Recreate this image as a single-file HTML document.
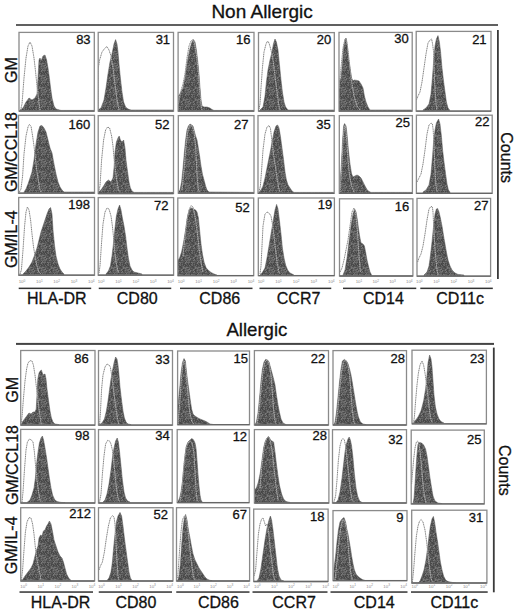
<!DOCTYPE html><html><head><meta charset="utf-8"><style>html,body{margin:0;padding:0;background:#fff;}svg{display:block;}text{font-family:"Liberation Sans", sans-serif;fill:#111;stroke:#111;stroke-width:0.3px;}text.tk{fill:#8c8c8c;stroke:none;}</style></head><body>
<svg width="520" height="612" viewBox="0 0 520 612">
<defs><pattern id="tex" patternUnits="userSpaceOnUse" width="12" height="12"><rect x="0" y="0" width="1" height="1" fill="#646464"/><rect x="1" y="0" width="1" height="1" fill="#525252"/><rect x="2" y="0" width="1" height="1" fill="#6c6c6c"/><rect x="3" y="0" width="1" height="1" fill="#464646"/><rect x="4" y="0" width="1" height="1" fill="#4c4c4c"/><rect x="5" y="0" width="1" height="1" fill="#4c4c4c"/><rect x="6" y="0" width="1" height="1" fill="#646464"/><rect x="7" y="0" width="1" height="1" fill="#464646"/><rect x="8" y="0" width="1" height="1" fill="#585858"/><rect x="9" y="0" width="1" height="1" fill="#464646"/><rect x="10" y="0" width="1" height="1" fill="#4c4c4c"/><rect x="11" y="0" width="1" height="1" fill="#6c6c6c"/><rect x="0" y="1" width="1" height="1" fill="#6c6c6c"/><rect x="1" y="1" width="1" height="1" fill="#4c4c4c"/><rect x="2" y="1" width="1" height="1" fill="#585858"/><rect x="3" y="1" width="1" height="1" fill="#4c4c4c"/><rect x="4" y="1" width="1" height="1" fill="#6c6c6c"/><rect x="5" y="1" width="1" height="1" fill="#464646"/><rect x="6" y="1" width="1" height="1" fill="#4c4c4c"/><rect x="7" y="1" width="1" height="1" fill="#585858"/><rect x="8" y="1" width="1" height="1" fill="#464646"/><rect x="9" y="1" width="1" height="1" fill="#6c6c6c"/><rect x="10" y="1" width="1" height="1" fill="#464646"/><rect x="11" y="1" width="1" height="1" fill="#585858"/><rect x="0" y="2" width="1" height="1" fill="#464646"/><rect x="1" y="2" width="1" height="1" fill="#525252"/><rect x="2" y="2" width="1" height="1" fill="#5e5e5e"/><rect x="3" y="2" width="1" height="1" fill="#6c6c6c"/><rect x="4" y="2" width="1" height="1" fill="#525252"/><rect x="5" y="2" width="1" height="1" fill="#4c4c4c"/><rect x="6" y="2" width="1" height="1" fill="#5e5e5e"/><rect x="7" y="2" width="1" height="1" fill="#525252"/><rect x="8" y="2" width="1" height="1" fill="#4c4c4c"/><rect x="9" y="2" width="1" height="1" fill="#585858"/><rect x="10" y="2" width="1" height="1" fill="#646464"/><rect x="11" y="2" width="1" height="1" fill="#4c4c4c"/><rect x="0" y="3" width="1" height="1" fill="#4c4c4c"/><rect x="1" y="3" width="1" height="1" fill="#464646"/><rect x="2" y="3" width="1" height="1" fill="#585858"/><rect x="3" y="3" width="1" height="1" fill="#767676"/><rect x="4" y="3" width="1" height="1" fill="#6c6c6c"/><rect x="5" y="3" width="1" height="1" fill="#646464"/><rect x="6" y="3" width="1" height="1" fill="#767676"/><rect x="7" y="3" width="1" height="1" fill="#767676"/><rect x="8" y="3" width="1" height="1" fill="#646464"/><rect x="9" y="3" width="1" height="1" fill="#5e5e5e"/><rect x="10" y="3" width="1" height="1" fill="#585858"/><rect x="11" y="3" width="1" height="1" fill="#525252"/><rect x="0" y="4" width="1" height="1" fill="#585858"/><rect x="1" y="4" width="1" height="1" fill="#4c4c4c"/><rect x="2" y="4" width="1" height="1" fill="#5e5e5e"/><rect x="3" y="4" width="1" height="1" fill="#767676"/><rect x="4" y="4" width="1" height="1" fill="#646464"/><rect x="5" y="4" width="1" height="1" fill="#767676"/><rect x="6" y="4" width="1" height="1" fill="#5e5e5e"/><rect x="7" y="4" width="1" height="1" fill="#4c4c4c"/><rect x="8" y="4" width="1" height="1" fill="#4c4c4c"/><rect x="9" y="4" width="1" height="1" fill="#6c6c6c"/><rect x="10" y="4" width="1" height="1" fill="#525252"/><rect x="11" y="4" width="1" height="1" fill="#646464"/><rect x="0" y="5" width="1" height="1" fill="#525252"/><rect x="1" y="5" width="1" height="1" fill="#767676"/><rect x="2" y="5" width="1" height="1" fill="#6c6c6c"/><rect x="3" y="5" width="1" height="1" fill="#464646"/><rect x="4" y="5" width="1" height="1" fill="#4c4c4c"/><rect x="5" y="5" width="1" height="1" fill="#646464"/><rect x="6" y="5" width="1" height="1" fill="#646464"/><rect x="7" y="5" width="1" height="1" fill="#646464"/><rect x="8" y="5" width="1" height="1" fill="#767676"/><rect x="9" y="5" width="1" height="1" fill="#767676"/><rect x="10" y="5" width="1" height="1" fill="#4c4c4c"/><rect x="11" y="5" width="1" height="1" fill="#4c4c4c"/><rect x="0" y="6" width="1" height="1" fill="#5e5e5e"/><rect x="1" y="6" width="1" height="1" fill="#767676"/><rect x="2" y="6" width="1" height="1" fill="#4c4c4c"/><rect x="3" y="6" width="1" height="1" fill="#464646"/><rect x="4" y="6" width="1" height="1" fill="#5e5e5e"/><rect x="5" y="6" width="1" height="1" fill="#767676"/><rect x="6" y="6" width="1" height="1" fill="#5e5e5e"/><rect x="7" y="6" width="1" height="1" fill="#6c6c6c"/><rect x="8" y="6" width="1" height="1" fill="#646464"/><rect x="9" y="6" width="1" height="1" fill="#464646"/><rect x="10" y="6" width="1" height="1" fill="#767676"/><rect x="11" y="6" width="1" height="1" fill="#646464"/><rect x="0" y="7" width="1" height="1" fill="#525252"/><rect x="1" y="7" width="1" height="1" fill="#4c4c4c"/><rect x="2" y="7" width="1" height="1" fill="#767676"/><rect x="3" y="7" width="1" height="1" fill="#464646"/><rect x="4" y="7" width="1" height="1" fill="#585858"/><rect x="5" y="7" width="1" height="1" fill="#5e5e5e"/><rect x="6" y="7" width="1" height="1" fill="#525252"/><rect x="7" y="7" width="1" height="1" fill="#585858"/><rect x="8" y="7" width="1" height="1" fill="#6c6c6c"/><rect x="9" y="7" width="1" height="1" fill="#6c6c6c"/><rect x="10" y="7" width="1" height="1" fill="#767676"/><rect x="11" y="7" width="1" height="1" fill="#4c4c4c"/><rect x="0" y="8" width="1" height="1" fill="#525252"/><rect x="1" y="8" width="1" height="1" fill="#767676"/><rect x="2" y="8" width="1" height="1" fill="#6c6c6c"/><rect x="3" y="8" width="1" height="1" fill="#5e5e5e"/><rect x="4" y="8" width="1" height="1" fill="#525252"/><rect x="5" y="8" width="1" height="1" fill="#6c6c6c"/><rect x="6" y="8" width="1" height="1" fill="#5e5e5e"/><rect x="7" y="8" width="1" height="1" fill="#6c6c6c"/><rect x="8" y="8" width="1" height="1" fill="#646464"/><rect x="9" y="8" width="1" height="1" fill="#6c6c6c"/><rect x="10" y="8" width="1" height="1" fill="#585858"/><rect x="11" y="8" width="1" height="1" fill="#525252"/><rect x="0" y="9" width="1" height="1" fill="#4c4c4c"/><rect x="1" y="9" width="1" height="1" fill="#525252"/><rect x="2" y="9" width="1" height="1" fill="#525252"/><rect x="3" y="9" width="1" height="1" fill="#585858"/><rect x="4" y="9" width="1" height="1" fill="#585858"/><rect x="5" y="9" width="1" height="1" fill="#464646"/><rect x="6" y="9" width="1" height="1" fill="#767676"/><rect x="7" y="9" width="1" height="1" fill="#525252"/><rect x="8" y="9" width="1" height="1" fill="#5e5e5e"/><rect x="9" y="9" width="1" height="1" fill="#5e5e5e"/><rect x="10" y="9" width="1" height="1" fill="#464646"/><rect x="11" y="9" width="1" height="1" fill="#525252"/><rect x="0" y="10" width="1" height="1" fill="#6c6c6c"/><rect x="1" y="10" width="1" height="1" fill="#646464"/><rect x="2" y="10" width="1" height="1" fill="#646464"/><rect x="3" y="10" width="1" height="1" fill="#525252"/><rect x="4" y="10" width="1" height="1" fill="#464646"/><rect x="5" y="10" width="1" height="1" fill="#767676"/><rect x="6" y="10" width="1" height="1" fill="#6c6c6c"/><rect x="7" y="10" width="1" height="1" fill="#6c6c6c"/><rect x="8" y="10" width="1" height="1" fill="#6c6c6c"/><rect x="9" y="10" width="1" height="1" fill="#6c6c6c"/><rect x="10" y="10" width="1" height="1" fill="#4c4c4c"/><rect x="11" y="10" width="1" height="1" fill="#767676"/><rect x="0" y="11" width="1" height="1" fill="#6c6c6c"/><rect x="1" y="11" width="1" height="1" fill="#464646"/><rect x="2" y="11" width="1" height="1" fill="#585858"/><rect x="3" y="11" width="1" height="1" fill="#4c4c4c"/><rect x="4" y="11" width="1" height="1" fill="#585858"/><rect x="5" y="11" width="1" height="1" fill="#767676"/><rect x="6" y="11" width="1" height="1" fill="#525252"/><rect x="7" y="11" width="1" height="1" fill="#4c4c4c"/><rect x="8" y="11" width="1" height="1" fill="#646464"/><rect x="9" y="11" width="1" height="1" fill="#464646"/><rect x="10" y="11" width="1" height="1" fill="#4c4c4c"/><rect x="11" y="11" width="1" height="1" fill="#464646"/></pattern></defs>
<rect width="520" height="612" fill="#fff"/>
<text x="211.4" y="17.7" font-size="19">Non Allergic</text>
<text x="226.4" y="335.9" font-size="18.6">Allergic</text>
<rect x="16" y="24.2" width="482" height="1.6" fill="#3a3a3a"/>
<rect x="16" y="342.9" width="478" height="2" fill="#444"/>
<rect x="497" y="30" width="1.8" height="249" fill="#3a3a3a"/>
<rect x="492.9" y="347.6" width="1.8" height="244.7" fill="#3a3a3a"/>
<text transform="translate(500.8,132.3) rotate(90)" font-size="16">Counts</text>
<text transform="translate(499.1,445) rotate(90)" font-size="16">Counts</text>
<text transform="translate(16.5,82.9) rotate(-90)" font-size="16">GM</text>
<text transform="translate(16.6,192.1) rotate(-90)" font-size="16">GM/CCL18</text>
<text transform="translate(16.5,268.1) rotate(-90)" font-size="16">GM/IL-4</text>
<text transform="translate(18.2,402.8) rotate(-90)" font-size="16">GM</text>
<text transform="translate(17.8,505.1) rotate(-90)" font-size="16">GM/CCL18</text>
<text transform="translate(17,574.2) rotate(-90)" font-size="16">GM/IL-4</text>
<clipPath id="cT11"><rect x="19" y="32.4" width="75.3" height="78.7"/></clipPath>
<g clip-path="url(#cT11)">
<path d="M20,113.1 L20,110 L23,108 L26,102 L29,98 L32,100 L35,98 L37,94 L38,78 L39,60 L40,58 L41,61 L43,56 L45,55 L46.6,60 L48,68 L49.4,78 L50.6,88 L52,98 L54,106 L56,109 L61,110.4 L94,110.4 L94,113.1 Z" fill="url(#tex)" stroke="#555" stroke-width="0.5"/>
<polyline points="20.6,110 22,104 24,78 26,58 28,46 30,42 32,46 34,58 35.6,72 37,86 38.4,98 40,110" fill="none" stroke="#858585" stroke-width="1.0" stroke-dasharray="1.3,0.5"/>
<clipPath id="fT11"><path d="M20,113.1 L20,110 L23,108 L26,102 L29,98 L32,100 L35,98 L37,94 L38,78 L39,60 L40,58 L41,61 L43,56 L45,55 L46.6,60 L48,68 L49.4,78 L50.6,88 L52,98 L54,106 L56,109 L61,110.4 L94,110.4 L94,113.1 Z"/></clipPath>
<polyline clip-path="url(#fT11)" points="20.6,110 22,104 24,78 26,58 28,46 30,42 32,46 34,58 35.6,72 37,86 38.4,98 40,110" fill="none" stroke="#b8b8b8" stroke-width="0.9" stroke-dasharray="1.1,0.7"/>
</g>
<rect x="19" y="32.4" width="75.3" height="78.7" fill="none" stroke="#8a8a8a" stroke-width="1.3"/>
<line x1="19" y1="111.1" x2="94.3" y2="111.1" stroke="#666" stroke-width="1.3"/>
<text x="90.6" y="44.1" font-size="13" text-anchor="end">83</text>
<clipPath id="cT12"><rect x="98.2" y="32.4" width="75.3" height="78.7"/></clipPath>
<g clip-path="url(#cT12)">
<path d="M98,113.1 L98,110 L101,108 L104,100 L106,88 L108,74 L110,62 L112,54 L114,44 L115.6,39.6 L117,44 L118,52 L119,64 L120.4,78 L122,92 L123.6,102 L125.6,107 L128,109 L131,110 L173,110 L173,113.1 Z" fill="url(#tex)" stroke="#555" stroke-width="0.5"/>
<polyline points="98,110 98,70 99.6,60 102,52 105,48 107,46.6 109,50 111,56 113,68 115,84 117,100 119,110" fill="none" stroke="#858585" stroke-width="1.0" stroke-dasharray="1.3,0.5"/>
<clipPath id="fT12"><path d="M98,113.1 L98,110 L101,108 L104,100 L106,88 L108,74 L110,62 L112,54 L114,44 L115.6,39.6 L117,44 L118,52 L119,64 L120.4,78 L122,92 L123.6,102 L125.6,107 L128,109 L131,110 L173,110 L173,113.1 Z"/></clipPath>
<polyline clip-path="url(#fT12)" points="98,110 98,70 99.6,60 102,52 105,48 107,46.6 109,50 111,56 113,68 115,84 117,100 119,110" fill="none" stroke="#b8b8b8" stroke-width="0.9" stroke-dasharray="1.1,0.7"/>
</g>
<rect x="98.2" y="32.4" width="75.3" height="78.7" fill="none" stroke="#8a8a8a" stroke-width="1.3"/>
<line x1="98.2" y1="111.1" x2="173.5" y2="111.1" stroke="#666" stroke-width="1.3"/>
<text x="170.1" y="44.2" font-size="13" text-anchor="end">31</text>
<clipPath id="cT13"><rect x="178.1" y="32.4" width="75.9" height="78.7"/></clipPath>
<g clip-path="url(#cT13)">
<path d="M178,113.1 L178,110 L178,96 L180,94 L183,88 L185,78 L186.4,68 L188,58 L189.6,50 L191.6,43 L193.4,39.6 L195,42 L196.4,50 L197.6,60 L199,74 L200,88 L201,100 L202,106 L204,107 L207,107 L210,108 L212,109.6 L214,110.4 L253.6,110.4 L253.6,113.1 Z" fill="url(#tex)" stroke="#555" stroke-width="0.5"/>
<polyline points="178.4,104 180,94 183,84 185,74 187,58 189,46 191,41 193,39.6 194,41 196,52 198,68 199.6,88 201,104 202,110" fill="none" stroke="#858585" stroke-width="1.0" stroke-dasharray="1.3,0.5"/>
<clipPath id="fT13"><path d="M178,113.1 L178,110 L178,96 L180,94 L183,88 L185,78 L186.4,68 L188,58 L189.6,50 L191.6,43 L193.4,39.6 L195,42 L196.4,50 L197.6,60 L199,74 L200,88 L201,100 L202,106 L204,107 L207,107 L210,108 L212,109.6 L214,110.4 L253.6,110.4 L253.6,113.1 Z"/></clipPath>
<polyline clip-path="url(#fT13)" points="178.4,104 180,94 183,84 185,74 187,58 189,46 191,41 193,39.6 194,41 196,52 198,68 199.6,88 201,104 202,110" fill="none" stroke="#b8b8b8" stroke-width="0.9" stroke-dasharray="1.1,0.7"/>
</g>
<rect x="178.1" y="32.4" width="75.9" height="78.7" fill="none" stroke="#8a8a8a" stroke-width="1.3"/>
<line x1="178.1" y1="111.1" x2="254" y2="111.1" stroke="#666" stroke-width="1.3"/>
<text x="250.5" y="44.4" font-size="13" text-anchor="end">16</text>
<clipPath id="cT14"><rect x="258.5" y="32.6" width="75.8" height="78.5"/></clipPath>
<g clip-path="url(#cT14)">
<path d="M260,113.1 L260,110 L263,107 L265,96 L266.4,82 L268,70 L270,60 L272,52 L273.4,44 L275,39 L276.4,42 L278,50 L279.4,64 L281,80 L282.4,92 L284,102 L285.6,107 L288,110 L334,110 L334,113.1 Z" fill="url(#tex)" stroke="#555" stroke-width="0.5"/>
<polyline points="259,109 260,104 261,88 262.4,68 264,52 266,44 267.6,41 269,43 271,50 273,60 275,76 277,92 279,106 280,110" fill="none" stroke="#858585" stroke-width="1.0" stroke-dasharray="1.3,0.5"/>
<clipPath id="fT14"><path d="M260,113.1 L260,110 L263,107 L265,96 L266.4,82 L268,70 L270,60 L272,52 L273.4,44 L275,39 L276.4,42 L278,50 L279.4,64 L281,80 L282.4,92 L284,102 L285.6,107 L288,110 L334,110 L334,113.1 Z"/></clipPath>
<polyline clip-path="url(#fT14)" points="259,109 260,104 261,88 262.4,68 264,52 266,44 267.6,41 269,43 271,50 273,60 275,76 277,92 279,106 280,110" fill="none" stroke="#b8b8b8" stroke-width="0.9" stroke-dasharray="1.1,0.7"/>
</g>
<rect x="258.5" y="32.6" width="75.8" height="78.5" fill="none" stroke="#8a8a8a" stroke-width="1.3"/>
<line x1="258.5" y1="111.1" x2="334.3" y2="111.1" stroke="#666" stroke-width="1.3"/>
<text x="331.3" y="43.5" font-size="13" text-anchor="end">20</text>
<clipPath id="cT15"><rect x="339" y="32.4" width="73.2" height="78.7"/></clipPath>
<g clip-path="url(#cT15)">
<path d="M339,113.1 L339,110 L339,82 L341,78 L342.4,64 L343.6,48 L345,40 L346,38 L347,44 L348.4,58 L350,68 L351.6,78 L353,81 L354,80 L357,80.4 L359,81 L361,84 L363,88 L364.4,96 L366,102 L368,107 L370,110 L411.6,110 L411.6,113.1 Z" fill="url(#tex)" stroke="#555" stroke-width="0.5"/>
<polyline points="339,88 341,68 343,48 345,39 346.4,39 348,50 350,68 352,84 354,96 357,106 360,110" fill="none" stroke="#858585" stroke-width="1.0" stroke-dasharray="1.3,0.5"/>
<clipPath id="fT15"><path d="M339,113.1 L339,110 L339,82 L341,78 L342.4,64 L343.6,48 L345,40 L346,38 L347,44 L348.4,58 L350,68 L351.6,78 L353,81 L354,80 L357,80.4 L359,81 L361,84 L363,88 L364.4,96 L366,102 L368,107 L370,110 L411.6,110 L411.6,113.1 Z"/></clipPath>
<polyline clip-path="url(#fT15)" points="339,88 341,68 343,48 345,39 346.4,39 348,50 350,68 352,84 354,96 357,106 360,110" fill="none" stroke="#b8b8b8" stroke-width="0.9" stroke-dasharray="1.1,0.7"/>
</g>
<rect x="339" y="32.4" width="73.2" height="78.7" fill="none" stroke="#8a8a8a" stroke-width="1.3"/>
<line x1="339" y1="111.1" x2="412.2" y2="111.1" stroke="#666" stroke-width="1.3"/>
<text x="408.8" y="43.2" font-size="13" text-anchor="end">30</text>
<clipPath id="cT16"><rect x="416.2" y="31.4" width="74.8" height="79.7"/></clipPath>
<g clip-path="url(#cT16)">
<path d="M423,113.1 L423,110 L426,108 L429,104 L431,94 L432.4,78 L433.6,62 L435,46 L436.4,39 L438,35.6 L439.4,42 L440.6,52 L442,68 L443.4,80 L445,92 L446.4,102 L448,108 L449.6,110 L449.6,113.1 Z" fill="url(#tex)" stroke="#555" stroke-width="0.5"/>
<polyline points="416.4,100 418,96 420,92 422,82 424,68 426,54 428,43 430,40 431.6,39 432.6,44 433.6,52 434,68 435,88 436,104 437,110" fill="none" stroke="#858585" stroke-width="1.0" stroke-dasharray="1.3,0.5"/>
<clipPath id="fT16"><path d="M423,113.1 L423,110 L426,108 L429,104 L431,94 L432.4,78 L433.6,62 L435,46 L436.4,39 L438,35.6 L439.4,42 L440.6,52 L442,68 L443.4,80 L445,92 L446.4,102 L448,108 L449.6,110 L449.6,113.1 Z"/></clipPath>
<polyline clip-path="url(#fT16)" points="416.4,100 418,96 420,92 422,82 424,68 426,54 428,43 430,40 431.6,39 432.6,44 433.6,52 434,68 435,88 436,104 437,110" fill="none" stroke="#b8b8b8" stroke-width="0.9" stroke-dasharray="1.1,0.7"/>
</g>
<rect x="416.2" y="31.4" width="74.8" height="79.7" fill="none" stroke="#8a8a8a" stroke-width="1.3"/>
<line x1="416.2" y1="111.1" x2="491" y2="111.1" stroke="#666" stroke-width="1.3"/>
<text x="486.6" y="43.8" font-size="13" text-anchor="end">21</text>
<clipPath id="cT21"><rect x="18.5" y="115.3" width="76" height="77.9"/></clipPath>
<g clip-path="url(#cT21)">
<path d="M24,195.2 L24,192 L26,189 L28,184 L30,178 L32,172 L34,160 L36,144 L38,132 L40,126 L42,125.6 L44,128 L46,132 L48,140 L50,148 L52,153 L54,164 L56,174 L58,182 L60,187 L62,190 L64,192 L94,192 L94,195.2 Z" fill="url(#tex)" stroke="#555" stroke-width="0.5"/>
<polyline points="19.4,192 21,189 22.6,176 24,154 26,136 28,127 29.4,124.4 31,126 32.6,136 34,146 35.6,160 37,172 38.6,182 40,190 41,192" fill="none" stroke="#858585" stroke-width="1.0" stroke-dasharray="1.3,0.5"/>
<clipPath id="fT21"><path d="M24,195.2 L24,192 L26,189 L28,184 L30,178 L32,172 L34,160 L36,144 L38,132 L40,126 L42,125.6 L44,128 L46,132 L48,140 L50,148 L52,153 L54,164 L56,174 L58,182 L60,187 L62,190 L64,192 L94,192 L94,195.2 Z"/></clipPath>
<polyline clip-path="url(#fT21)" points="19.4,192 21,189 22.6,176 24,154 26,136 28,127 29.4,124.4 31,126 32.6,136 34,146 35.6,160 37,172 38.6,182 40,190 41,192" fill="none" stroke="#b8b8b8" stroke-width="0.9" stroke-dasharray="1.1,0.7"/>
</g>
<rect x="18.5" y="115.3" width="76" height="77.9" fill="none" stroke="#8a8a8a" stroke-width="1.3"/>
<line x1="18.5" y1="193.2" x2="94.5" y2="193.2" stroke="#666" stroke-width="1.3"/>
<text x="90.3" y="128.8" font-size="13" text-anchor="end">160</text>
<clipPath id="cT22"><rect x="98.2" y="115.6" width="75.3" height="77.9"/></clipPath>
<g clip-path="url(#cT22)">
<path d="M98.4,195.5 L98.4,192 L101,190 L103.6,186 L106,182 L108.4,180 L111,182 L113,178 L114,168 L115,152 L116.4,142 L118,138 L119.2,136 L120.4,140 L122,142 L123.6,140 L125,148 L126,160 L127.6,172 L129,182 L130.4,188 L132,191 L134,192.4 L173,192.4 L173,195.5 Z" fill="url(#tex)" stroke="#555" stroke-width="0.5"/>
<polyline points="98.4,192 100,186 101.6,160 103.6,140 105.6,130 107.6,127 109.6,128 111.6,136 113,146 114,158 115.4,170 117,182 118.4,190 119.6,192" fill="none" stroke="#858585" stroke-width="1.0" stroke-dasharray="1.3,0.5"/>
<clipPath id="fT22"><path d="M98.4,195.5 L98.4,192 L101,190 L103.6,186 L106,182 L108.4,180 L111,182 L113,178 L114,168 L115,152 L116.4,142 L118,138 L119.2,136 L120.4,140 L122,142 L123.6,140 L125,148 L126,160 L127.6,172 L129,182 L130.4,188 L132,191 L134,192.4 L173,192.4 L173,195.5 Z"/></clipPath>
<polyline clip-path="url(#fT22)" points="98.4,192 100,186 101.6,160 103.6,140 105.6,130 107.6,127 109.6,128 111.6,136 113,146 114,158 115.4,170 117,182 118.4,190 119.6,192" fill="none" stroke="#b8b8b8" stroke-width="0.9" stroke-dasharray="1.1,0.7"/>
</g>
<rect x="98.2" y="115.6" width="75.3" height="77.9" fill="none" stroke="#8a8a8a" stroke-width="1.3"/>
<line x1="98.2" y1="193.5" x2="173.5" y2="193.5" stroke="#666" stroke-width="1.3"/>
<text x="169.5" y="128.5" font-size="13" text-anchor="end">52</text>
<clipPath id="cT23"><rect x="178.3" y="115.6" width="75.7" height="77.6"/></clipPath>
<g clip-path="url(#cT23)">
<path d="M178.4,195.2 L178.4,192 L180,190 L181.6,182 L183,168 L184.4,152 L185.6,140 L187,130 L188.4,126 L190,124 L191.6,125 L193,126 L194,130 L195.6,136 L197,140 L198,146 L199.6,156 L201,166 L202.4,174 L204,180 L205.6,186 L207,190 L209,192 L253.6,192.4 L253.6,195.2 Z" fill="url(#tex)" stroke="#555" stroke-width="0.5"/>
<polyline points="182,190 184,170 186,146 188,130 190,125 192,126 194,132 195.6,146 196.4,162 197.2,178 198.4,190 199.6,192.4" fill="none" stroke="#858585" stroke-width="1.0" stroke-dasharray="1.3,0.5"/>
<clipPath id="fT23"><path d="M178.4,195.2 L178.4,192 L180,190 L181.6,182 L183,168 L184.4,152 L185.6,140 L187,130 L188.4,126 L190,124 L191.6,125 L193,126 L194,130 L195.6,136 L197,140 L198,146 L199.6,156 L201,166 L202.4,174 L204,180 L205.6,186 L207,190 L209,192 L253.6,192.4 L253.6,195.2 Z"/></clipPath>
<polyline clip-path="url(#fT23)" points="182,190 184,170 186,146 188,130 190,125 192,126 194,132 195.6,146 196.4,162 197.2,178 198.4,190 199.6,192.4" fill="none" stroke="#b8b8b8" stroke-width="0.9" stroke-dasharray="1.1,0.7"/>
</g>
<rect x="178.3" y="115.6" width="75.7" height="77.6" fill="none" stroke="#8a8a8a" stroke-width="1.3"/>
<line x1="178.3" y1="193.2" x2="254" y2="193.2" stroke="#666" stroke-width="1.3"/>
<text x="248.4" y="129.3" font-size="13" text-anchor="end">27</text>
<clipPath id="cT24"><rect x="258" y="115.6" width="76.2" height="77.7"/></clipPath>
<g clip-path="url(#cT24)">
<path d="M259,195.3 L259,192 L261,190 L263,186 L265,178 L267,168 L269,158 L271,148 L272.4,140 L274,132 L276,126 L277.6,125 L279,128 L280.4,136 L282,148 L283.6,160 L285,172 L286.4,180 L288,185 L290,188 L292,191 L294,192.4 L333.6,192.4 L333.6,195.3 Z" fill="url(#tex)" stroke="#555" stroke-width="0.5"/>
<polyline points="259,192 260.4,186 261.6,170 263,150 265,134 267,127 269,125.6 270.4,128 271.6,138 273,150 275,164 277,178 279,189 280,192" fill="none" stroke="#858585" stroke-width="1.0" stroke-dasharray="1.3,0.5"/>
<clipPath id="fT24"><path d="M259,195.3 L259,192 L261,190 L263,186 L265,178 L267,168 L269,158 L271,148 L272.4,140 L274,132 L276,126 L277.6,125 L279,128 L280.4,136 L282,148 L283.6,160 L285,172 L286.4,180 L288,185 L290,188 L292,191 L294,192.4 L333.6,192.4 L333.6,195.3 Z"/></clipPath>
<polyline clip-path="url(#fT24)" points="259,192 260.4,186 261.6,170 263,150 265,134 267,127 269,125.6 270.4,128 271.6,138 273,150 275,164 277,178 279,189 280,192" fill="none" stroke="#b8b8b8" stroke-width="0.9" stroke-dasharray="1.1,0.7"/>
</g>
<rect x="258" y="115.6" width="76.2" height="77.7" fill="none" stroke="#8a8a8a" stroke-width="1.3"/>
<line x1="258" y1="193.3" x2="334.2" y2="193.3" stroke="#666" stroke-width="1.3"/>
<text x="330.7" y="128.5" font-size="13" text-anchor="end">35</text>
<clipPath id="cT25"><rect x="339.3" y="115.6" width="73.1" height="77.7"/></clipPath>
<g clip-path="url(#cT25)">
<path d="M339.4,195.3 L339.4,192 L340,186 L341.6,160 L342.6,140 L343.6,126 L344.6,123.6 L346,126 L347,134 L348.4,150 L350,164 L351.6,174 L353,177 L355,176 L357,175 L359,176 L361,178 L363,182 L365,186 L367,189.6 L369,191.6 L371,192.4 L412,192.4 L412,195.3 Z" fill="url(#tex)" stroke="#555" stroke-width="0.5"/>
<polyline points="340,192 341.6,170 343,140 344.4,126 345.6,126 346.8,140 348,160 349.6,176 351.6,186 354,192" fill="none" stroke="#858585" stroke-width="1.0" stroke-dasharray="1.3,0.5"/>
<clipPath id="fT25"><path d="M339.4,195.3 L339.4,192 L340,186 L341.6,160 L342.6,140 L343.6,126 L344.6,123.6 L346,126 L347,134 L348.4,150 L350,164 L351.6,174 L353,177 L355,176 L357,175 L359,176 L361,178 L363,182 L365,186 L367,189.6 L369,191.6 L371,192.4 L412,192.4 L412,195.3 Z"/></clipPath>
<polyline clip-path="url(#fT25)" points="340,192 341.6,170 343,140 344.4,126 345.6,126 346.8,140 348,160 349.6,176 351.6,186 354,192" fill="none" stroke="#b8b8b8" stroke-width="0.9" stroke-dasharray="1.1,0.7"/>
</g>
<rect x="339.3" y="115.6" width="73.1" height="77.7" fill="none" stroke="#8a8a8a" stroke-width="1.3"/>
<line x1="339.3" y1="193.3" x2="412.4" y2="193.3" stroke="#666" stroke-width="1.3"/>
<text x="409.9" y="127" font-size="13" text-anchor="end">25</text>
<clipPath id="cT26"><rect x="416.4" y="115.2" width="75.8" height="78.1"/></clipPath>
<g clip-path="url(#cT26)">
<path d="M423,195.3 L423,192 L426,190 L429,185 L431,174 L432.4,158 L433.6,142 L435,130 L436.4,123 L438.6,119 L440,124 L441.4,136 L442.6,150 L444,162 L445.6,174 L447,184 L448.4,190 L450,192 L450,195.3 Z" fill="url(#tex)" stroke="#555" stroke-width="0.5"/>
<polyline points="417,182 419,178 421,174 423,164 425,150 427,134 429,125 431,123 432.4,124 433.2,130 434,146 435,170 436,186 437,192" fill="none" stroke="#858585" stroke-width="1.0" stroke-dasharray="1.3,0.5"/>
<clipPath id="fT26"><path d="M423,195.3 L423,192 L426,190 L429,185 L431,174 L432.4,158 L433.6,142 L435,130 L436.4,123 L438.6,119 L440,124 L441.4,136 L442.6,150 L444,162 L445.6,174 L447,184 L448.4,190 L450,192 L450,195.3 Z"/></clipPath>
<polyline clip-path="url(#fT26)" points="417,182 419,178 421,174 423,164 425,150 427,134 429,125 431,123 432.4,124 433.2,130 434,146 435,170 436,186 437,192" fill="none" stroke="#b8b8b8" stroke-width="0.9" stroke-dasharray="1.1,0.7"/>
</g>
<rect x="416.4" y="115.2" width="75.8" height="78.1" fill="none" stroke="#8a8a8a" stroke-width="1.3"/>
<line x1="416.4" y1="193.3" x2="492.2" y2="193.3" stroke="#666" stroke-width="1.3"/>
<text x="489.5" y="126.4" font-size="13" text-anchor="end">22</text>
<clipPath id="cT31"><rect x="18.7" y="197.5" width="75.8" height="77.7"/></clipPath>
<g clip-path="url(#cT31)">
<path d="M23,277.2 L23,274 L26,271 L29,267 L32,262 L35,254 L37,248 L39,240 L41,232 L43,226 L45,220 L47,214 L49,209 L50.6,207.6 L52,214 L53,230 L54.6,246 L56,256 L58,264 L60,269 L62,272 L64,274 L64,277.2 Z" fill="url(#tex)" stroke="#555" stroke-width="0.5"/>
<polyline points="20,274 21.4,270 23,250 24.6,226 26,212 27.4,207 29,210 30.6,220 32,234 33.4,246 35,256 37,266 39,272 41,274" fill="none" stroke="#858585" stroke-width="1.0" stroke-dasharray="1.3,0.5"/>
<clipPath id="fT31"><path d="M23,277.2 L23,274 L26,271 L29,267 L32,262 L35,254 L37,248 L39,240 L41,232 L43,226 L45,220 L47,214 L49,209 L50.6,207.6 L52,214 L53,230 L54.6,246 L56,256 L58,264 L60,269 L62,272 L64,274 L64,277.2 Z"/></clipPath>
<polyline clip-path="url(#fT31)" points="20,274 21.4,270 23,250 24.6,226 26,212 27.4,207 29,210 30.6,220 32,234 33.4,246 35,256 37,266 39,272 41,274" fill="none" stroke="#b8b8b8" stroke-width="0.9" stroke-dasharray="1.1,0.7"/>
</g>
<rect x="18.7" y="197.5" width="75.8" height="77.7" fill="none" stroke="#8a8a8a" stroke-width="1.3"/>
<line x1="18.7" y1="275.2" x2="94.5" y2="275.2" stroke="#666" stroke-width="1.3"/>
<text x="89.9" y="209.2" font-size="13" text-anchor="end">198</text>
<clipPath id="cT32"><rect x="98.2" y="197.6" width="75.4" height="77.6"/></clipPath>
<g clip-path="url(#cT32)">
<path d="M106,277.2 L106,274 L108.4,271 L110.4,266 L112,256 L113.4,244 L115,228 L116.4,216 L118,209 L119.6,205 L121,210 L122.4,218 L124,226 L125.6,236 L127,248 L128.4,258 L130,266 L132,270 L134,272 L138,273 L142,274 L142,277.2 Z" fill="url(#tex)" stroke="#555" stroke-width="0.5"/>
<polyline points="99,273 100,266 101.6,242 103,224 105,212 107,208 109,209 111,216 112.4,226 113.6,238 114.6,250 116,262 117.6,270 119,273" fill="none" stroke="#858585" stroke-width="1.0" stroke-dasharray="1.3,0.5"/>
<clipPath id="fT32"><path d="M106,277.2 L106,274 L108.4,271 L110.4,266 L112,256 L113.4,244 L115,228 L116.4,216 L118,209 L119.6,205 L121,210 L122.4,218 L124,226 L125.6,236 L127,248 L128.4,258 L130,266 L132,270 L134,272 L138,273 L142,274 L142,277.2 Z"/></clipPath>
<polyline clip-path="url(#fT32)" points="99,273 100,266 101.6,242 103,224 105,212 107,208 109,209 111,216 112.4,226 113.6,238 114.6,250 116,262 117.6,270 119,273" fill="none" stroke="#b8b8b8" stroke-width="0.9" stroke-dasharray="1.1,0.7"/>
</g>
<rect x="98.2" y="197.6" width="75.4" height="77.6" fill="none" stroke="#8a8a8a" stroke-width="1.3"/>
<line x1="98.2" y1="275.2" x2="173.6" y2="275.2" stroke="#666" stroke-width="1.3"/>
<text x="168.4" y="209.6" font-size="13" text-anchor="end">72</text>
<clipPath id="cT33"><rect x="177.8" y="198" width="75.9" height="77.6"/></clipPath>
<g clip-path="url(#cT33)">
<path d="M177.6,277.6 L177.6,275 L177.6,260 L179.6,258 L181.6,252 L183.6,242 L185.6,230 L187.6,216 L189.6,209 L191.6,208 L193.6,209 L195.6,210 L197,212 L198.4,218 L199.6,230 L201,244 L202.4,254 L204,262 L206,267.6 L208,270 L211,272.4 L214,274 L217,275 L217,277.6 Z" fill="url(#tex)" stroke="#555" stroke-width="0.5"/>
<polyline points="183,256 185,236 187,220 189,210 191,205.6 193,207 195,216 197,230 199,248 201,262 203,272" fill="none" stroke="#858585" stroke-width="1.0" stroke-dasharray="1.3,0.5"/>
<clipPath id="fT33"><path d="M177.6,277.6 L177.6,275 L177.6,260 L179.6,258 L181.6,252 L183.6,242 L185.6,230 L187.6,216 L189.6,209 L191.6,208 L193.6,209 L195.6,210 L197,212 L198.4,218 L199.6,230 L201,244 L202.4,254 L204,262 L206,267.6 L208,270 L211,272.4 L214,274 L217,275 L217,277.6 Z"/></clipPath>
<polyline clip-path="url(#fT33)" points="183,256 185,236 187,220 189,210 191,205.6 193,207 195,216 197,230 199,248 201,262 203,272" fill="none" stroke="#b8b8b8" stroke-width="0.9" stroke-dasharray="1.1,0.7"/>
</g>
<rect x="177.8" y="198" width="75.9" height="77.6" fill="none" stroke="#8a8a8a" stroke-width="1.3"/>
<line x1="177.8" y1="275.6" x2="253.7" y2="275.6" stroke="#666" stroke-width="1.3"/>
<text x="249.8" y="211.5" font-size="13" text-anchor="end">52</text>
<clipPath id="cT34"><rect x="258.3" y="198" width="76.1" height="77.6"/></clipPath>
<g clip-path="url(#cT34)">
<path d="M260,277.6 L260,275 L262,273 L265,268 L267,258 L269,246 L271,234 L273,222 L275,210 L276.6,204.4 L278,209 L279.4,220 L281,234 L282.4,248 L284,258 L285.6,265 L287.6,270 L290,273 L294,275 L294,277.6 Z" fill="url(#tex)" stroke="#555" stroke-width="0.5"/>
<polyline points="260,274 261,266 262,246 263,226 265,214 267,212 269,213 271,216 272.4,224 274,236 275.6,250 277,262 279,272 280,274" fill="none" stroke="#858585" stroke-width="1.0" stroke-dasharray="1.3,0.5"/>
<clipPath id="fT34"><path d="M260,277.6 L260,275 L262,273 L265,268 L267,258 L269,246 L271,234 L273,222 L275,210 L276.6,204.4 L278,209 L279.4,220 L281,234 L282.4,248 L284,258 L285.6,265 L287.6,270 L290,273 L294,275 L294,277.6 Z"/></clipPath>
<polyline clip-path="url(#fT34)" points="260,274 261,266 262,246 263,226 265,214 267,212 269,213 271,216 272.4,224 274,236 275.6,250 277,262 279,272 280,274" fill="none" stroke="#b8b8b8" stroke-width="0.9" stroke-dasharray="1.1,0.7"/>
</g>
<rect x="258.3" y="198" width="76.1" height="77.6" fill="none" stroke="#8a8a8a" stroke-width="1.3"/>
<line x1="258.3" y1="275.6" x2="334.4" y2="275.6" stroke="#666" stroke-width="1.3"/>
<text x="332.2" y="209.2" font-size="13" text-anchor="end">19</text>
<clipPath id="cT35"><rect x="339.5" y="198.8" width="73.4" height="77.2"/></clipPath>
<g clip-path="url(#cT35)">
<path d="M343,278 L343,275 L345,270 L347,258 L349,242 L351,226 L353,214 L354.6,209 L356,212 L357.4,220 L358.4,228 L359.6,236 L361,243 L363,244 L364.4,246 L365.6,252 L367,260 L368.4,266 L370,272 L371.6,275 L371.6,278 Z" fill="url(#tex)" stroke="#555" stroke-width="0.5"/>
<polyline points="340,272 342,268 344,260 346,250 348,240 350,226 352,212 354,208 355.6,212 357,226 358,240 359,256 360.4,272" fill="none" stroke="#858585" stroke-width="1.0" stroke-dasharray="1.3,0.5"/>
<clipPath id="fT35"><path d="M343,278 L343,275 L345,270 L347,258 L349,242 L351,226 L353,214 L354.6,209 L356,212 L357.4,220 L358.4,228 L359.6,236 L361,243 L363,244 L364.4,246 L365.6,252 L367,260 L368.4,266 L370,272 L371.6,275 L371.6,278 Z"/></clipPath>
<polyline clip-path="url(#fT35)" points="340,272 342,268 344,260 346,250 348,240 350,226 352,212 354,208 355.6,212 357,226 358,240 359,256 360.4,272" fill="none" stroke="#b8b8b8" stroke-width="0.9" stroke-dasharray="1.1,0.7"/>
</g>
<rect x="339.5" y="198.8" width="73.4" height="77.2" fill="none" stroke="#8a8a8a" stroke-width="1.3"/>
<line x1="339.5" y1="276" x2="412.9" y2="276" stroke="#666" stroke-width="1.3"/>
<text x="409.3" y="210.8" font-size="13" text-anchor="end">16</text>
<clipPath id="cT36"><rect x="417" y="198.4" width="73.6" height="77.8"/></clipPath>
<g clip-path="url(#cT36)">
<path d="M424,278.2 L424,275 L427,272 L429,266 L430.4,256 L432,242 L433.6,226 L435,214 L436.4,209 L437.6,208.4 L439,212 L440.4,218 L442,226 L443.6,236 L445,244 L446.4,252 L448,260 L450,266 L452,270 L455,273 L458,274.4 L464,275 L464,278.2 Z" fill="url(#tex)" stroke="#555" stroke-width="0.5"/>
<polyline points="417.6,262 419,258 421,254 423,246 425,234 427,220 429,209 431,206.4 432.4,207 433,212 433.6,224 434.4,240 435.6,256 437,270 438,275" fill="none" stroke="#858585" stroke-width="1.0" stroke-dasharray="1.3,0.5"/>
<clipPath id="fT36"><path d="M424,278.2 L424,275 L427,272 L429,266 L430.4,256 L432,242 L433.6,226 L435,214 L436.4,209 L437.6,208.4 L439,212 L440.4,218 L442,226 L443.6,236 L445,244 L446.4,252 L448,260 L450,266 L452,270 L455,273 L458,274.4 L464,275 L464,278.2 Z"/></clipPath>
<polyline clip-path="url(#fT36)" points="417.6,262 419,258 421,254 423,246 425,234 427,220 429,209 431,206.4 432.4,207 433,212 433.6,224 434.4,240 435.6,256 437,270 438,275" fill="none" stroke="#b8b8b8" stroke-width="0.9" stroke-dasharray="1.1,0.7"/>
</g>
<rect x="417" y="198.4" width="73.6" height="77.8" fill="none" stroke="#8a8a8a" stroke-width="1.3"/>
<line x1="417" y1="276.2" x2="490.6" y2="276.2" stroke="#666" stroke-width="1.3"/>
<text x="488.4" y="210.4" font-size="13" text-anchor="end">27</text>
<clipPath id="cB11"><rect x="20.7" y="350.5" width="74.3" height="74.6"/></clipPath>
<g clip-path="url(#cB11)">
<path d="M21,427.1 L21,424.6 L23,421 L26,417 L29,413 L31,414 L33,412 L35,412 L36.2,409 L37,395 L37.8,379 L39,373 L40.2,371 L41.4,370 L43,375 L45,374 L46,379 L47,389 L48.6,401 L50,411 L51.4,418 L53,422 L55,424 L59,424.6 L59,427.1 Z" fill="url(#tex)" stroke="#555" stroke-width="0.5"/>
<polyline points="21,424 22,417 23.4,399 25,381 26.6,369 28,363 30,360.6 32,361 33.4,365 35,375 36.4,387 37.6,397 39,409 40.4,419 41.4,424.6" fill="none" stroke="#858585" stroke-width="1.0" stroke-dasharray="1.3,0.5"/>
<clipPath id="fB11"><path d="M21,427.1 L21,424.6 L23,421 L26,417 L29,413 L31,414 L33,412 L35,412 L36.2,409 L37,395 L37.8,379 L39,373 L40.2,371 L41.4,370 L43,375 L45,374 L46,379 L47,389 L48.6,401 L50,411 L51.4,418 L53,422 L55,424 L59,424.6 L59,427.1 Z"/></clipPath>
<polyline clip-path="url(#fB11)" points="21,424 22,417 23.4,399 25,381 26.6,369 28,363 30,360.6 32,361 33.4,365 35,375 36.4,387 37.6,397 39,409 40.4,419 41.4,424.6" fill="none" stroke="#b8b8b8" stroke-width="0.9" stroke-dasharray="1.1,0.7"/>
</g>
<rect x="20.7" y="350.5" width="74.3" height="74.6" fill="none" stroke="#8a8a8a" stroke-width="1.3"/>
<line x1="20.7" y1="425.1" x2="95" y2="425.1" stroke="#666" stroke-width="1.3"/>
<text x="88.8" y="363" font-size="13" text-anchor="end">86</text>
<clipPath id="cB12"><rect x="98.5" y="350.6" width="74" height="74.5"/></clipPath>
<g clip-path="url(#cB12)">
<path d="M99.6,427.1 L99.6,424.6 L102,423 L104.4,419 L106.4,411 L108,401 L109.6,389 L111,379 L112.4,371 L114,363 L115.6,357 L117,359 L118,365 L119,375 L120,387 L121.4,399 L123,411 L124.4,418 L126,422 L128,424 L131,424.6 L131,427.1 Z" fill="url(#tex)" stroke="#555" stroke-width="0.5"/>
<polyline points="99.6,424 100.4,413 101.6,389 103,375 105,367 107,364 109,365 110.4,367 111.6,375 113,385 114.4,397 116,409 117.6,419 119,424.6" fill="none" stroke="#858585" stroke-width="1.0" stroke-dasharray="1.3,0.5"/>
<clipPath id="fB12"><path d="M99.6,427.1 L99.6,424.6 L102,423 L104.4,419 L106.4,411 L108,401 L109.6,389 L111,379 L112.4,371 L114,363 L115.6,357 L117,359 L118,365 L119,375 L120,387 L121.4,399 L123,411 L124.4,418 L126,422 L128,424 L131,424.6 L131,427.1 Z"/></clipPath>
<polyline clip-path="url(#fB12)" points="99.6,424 100.4,413 101.6,389 103,375 105,367 107,364 109,365 110.4,367 111.6,375 113,385 114.4,397 116,409 117.6,419 119,424.6" fill="none" stroke="#b8b8b8" stroke-width="0.9" stroke-dasharray="1.1,0.7"/>
</g>
<rect x="98.5" y="350.6" width="74" height="74.5" fill="none" stroke="#8a8a8a" stroke-width="1.3"/>
<line x1="98.5" y1="425.1" x2="172.5" y2="425.1" stroke="#666" stroke-width="1.3"/>
<text x="169.8" y="363.8" font-size="13" text-anchor="end">33</text>
<clipPath id="cB13"><rect x="177.6" y="351" width="71.9" height="73.7"/></clipPath>
<g clip-path="url(#cB13)">
<path d="M177.6,426.7 L177.6,424 L178,405 L179,395 L180,385 L181,373 L182.4,363 L184,358.6 L185.4,361 L186.4,371 L187.6,381 L189,391 L190.4,401 L191.6,409 L193,414 L195,416 L198,418 L201,419.4 L204,420.6 L207,422 L210,424 L214,424.6 L214,426.7 Z" fill="url(#tex)" stroke="#555" stroke-width="0.5"/>
<polyline points="178,424 179.6,405 181.6,375 183.2,361 184.8,361 186.4,375 188,395 189.6,411 191.6,421 194,424.6" fill="none" stroke="#858585" stroke-width="1.0" stroke-dasharray="1.3,0.5"/>
<clipPath id="fB13"><path d="M177.6,426.7 L177.6,424 L178,405 L179,395 L180,385 L181,373 L182.4,363 L184,358.6 L185.4,361 L186.4,371 L187.6,381 L189,391 L190.4,401 L191.6,409 L193,414 L195,416 L198,418 L201,419.4 L204,420.6 L207,422 L210,424 L214,424.6 L214,426.7 Z"/></clipPath>
<polyline clip-path="url(#fB13)" points="178,424 179.6,405 181.6,375 183.2,361 184.8,361 186.4,375 188,395 189.6,411 191.6,421 194,424.6" fill="none" stroke="#b8b8b8" stroke-width="0.9" stroke-dasharray="1.1,0.7"/>
</g>
<rect x="177.6" y="351" width="71.9" height="73.7" fill="none" stroke="#8a8a8a" stroke-width="1.3"/>
<line x1="177.6" y1="424.7" x2="249.5" y2="424.7" stroke="#666" stroke-width="1.3"/>
<text x="248" y="363.2" font-size="13" text-anchor="end">15</text>
<clipPath id="cB14"><rect x="254.4" y="350.6" width="74.1" height="74.4"/></clipPath>
<g clip-path="url(#cB14)">
<path d="M255,427 L255,424.6 L256.4,422 L258,413 L259.6,397 L261,381 L262.4,369 L264,362 L265.6,359.4 L267.6,360 L269,362 L270.4,367 L272,373 L273.6,379 L275,385 L276.4,395 L278,405 L279.6,413 L281,419 L283,423 L286,424.6 L286,427 Z" fill="url(#tex)" stroke="#555" stroke-width="0.5"/>
<polyline points="257,424.6 259,411 261,389 263,371 265,362 267,360 269,363 271,375 272.4,393 273.6,409 275,421 276.4,424.6" fill="none" stroke="#858585" stroke-width="1.0" stroke-dasharray="1.3,0.5"/>
<clipPath id="fB14"><path d="M255,427 L255,424.6 L256.4,422 L258,413 L259.6,397 L261,381 L262.4,369 L264,362 L265.6,359.4 L267.6,360 L269,362 L270.4,367 L272,373 L273.6,379 L275,385 L276.4,395 L278,405 L279.6,413 L281,419 L283,423 L286,424.6 L286,427 Z"/></clipPath>
<polyline clip-path="url(#fB14)" points="257,424.6 259,411 261,389 263,371 265,362 267,360 269,363 271,375 272.4,393 273.6,409 275,421 276.4,424.6" fill="none" stroke="#b8b8b8" stroke-width="0.9" stroke-dasharray="1.1,0.7"/>
</g>
<rect x="254.4" y="350.6" width="74.1" height="74.4" fill="none" stroke="#8a8a8a" stroke-width="1.3"/>
<line x1="254.4" y1="425" x2="328.5" y2="425" stroke="#666" stroke-width="1.3"/>
<text x="325.3" y="362.8" font-size="13" text-anchor="end">22</text>
<clipPath id="cB15"><rect x="333" y="350.6" width="73.5" height="74.4"/></clipPath>
<g clip-path="url(#cB15)">
<path d="M334,427 L334,424.6 L335,422 L336.4,413 L338,397 L339.6,381 L341,369 L342.4,361 L344.4,359.4 L346.4,361 L348,364 L349.6,369 L351,375 L352.4,383 L354,393 L355.6,403 L357,411 L358.4,417 L360.4,422 L363,424 L366,424.6 L366,427 Z" fill="url(#tex)" stroke="#555" stroke-width="0.5"/>
<polyline points="335.6,424.6 337.6,411 339.6,389 341.6,371 343.6,362 345.6,360 347.6,363 349.6,375 351,393 352.2,409 353.6,421 355,424.6" fill="none" stroke="#858585" stroke-width="1.0" stroke-dasharray="1.3,0.5"/>
<clipPath id="fB15"><path d="M334,427 L334,424.6 L335,422 L336.4,413 L338,397 L339.6,381 L341,369 L342.4,361 L344.4,359.4 L346.4,361 L348,364 L349.6,369 L351,375 L352.4,383 L354,393 L355.6,403 L357,411 L358.4,417 L360.4,422 L363,424 L366,424.6 L366,427 Z"/></clipPath>
<polyline clip-path="url(#fB15)" points="335.6,424.6 337.6,411 339.6,389 341.6,371 343.6,362 345.6,360 347.6,363 349.6,375 351,393 352.2,409 353.6,421 355,424.6" fill="none" stroke="#b8b8b8" stroke-width="0.9" stroke-dasharray="1.1,0.7"/>
</g>
<rect x="333" y="350.6" width="73.5" height="74.4" fill="none" stroke="#8a8a8a" stroke-width="1.3"/>
<line x1="333" y1="425" x2="406.5" y2="425" stroke="#666" stroke-width="1.3"/>
<text x="404.9" y="362.8" font-size="13" text-anchor="end">28</text>
<clipPath id="cB16"><rect x="412" y="350.2" width="74.4" height="73.6"/></clipPath>
<g clip-path="url(#cB16)">
<path d="M412.4,425.8 L412.4,423 L415,421 L418,417 L421,411 L423.6,401 L425.6,389 L427,375 L428,363 L429.6,355 L431,359 L432,367 L433,381 L434,395 L435.4,407 L437,414 L439,419 L441,421.6 L444,423 L444,425.8 Z" fill="url(#tex)" stroke="#555" stroke-width="0.5"/>
<polyline points="413.6,423 414.4,417 415.6,401 417,385 418.4,373 420,365 422,361 423.6,365 425,373 426.4,383 428,397 429.6,411 431,420 432.4,423" fill="none" stroke="#858585" stroke-width="1.0" stroke-dasharray="1.3,0.5"/>
<clipPath id="fB16"><path d="M412.4,425.8 L412.4,423 L415,421 L418,417 L421,411 L423.6,401 L425.6,389 L427,375 L428,363 L429.6,355 L431,359 L432,367 L433,381 L434,395 L435.4,407 L437,414 L439,419 L441,421.6 L444,423 L444,425.8 Z"/></clipPath>
<polyline clip-path="url(#fB16)" points="413.6,423 414.4,417 415.6,401 417,385 418.4,373 420,365 422,361 423.6,365 425,373 426.4,383 428,397 429.6,411 431,420 432.4,423" fill="none" stroke="#b8b8b8" stroke-width="0.9" stroke-dasharray="1.1,0.7"/>
</g>
<rect x="412" y="350.2" width="74.4" height="73.6" fill="none" stroke="#8a8a8a" stroke-width="1.3"/>
<line x1="412" y1="423.8" x2="486.4" y2="423.8" stroke="#666" stroke-width="1.3"/>
<text x="484.5" y="363" font-size="13" text-anchor="end">23</text>
<clipPath id="cB21"><rect x="20.7" y="429.4" width="74.3" height="73.6"/></clipPath>
<g clip-path="url(#cB21)">
<path d="M27,505 L27,502.4 L30,500 L32,495 L34,488 L35.4,478 L36.6,464 L38,452 L39.4,443 L41,438 L42.4,436 L43.6,440 L45,448 L46.6,458 L48,468 L49.4,478 L51,488 L52.6,495 L54.6,499.6 L57,501.6 L61,502.4 L65,502.6 L65,505 Z" fill="url(#tex)" stroke="#555" stroke-width="0.5"/>
<polyline points="22,502 23,492 24.6,468 26,450 27.4,442 29.4,439 31.4,440 33,442 34.4,452 35.6,466 37,480 38.6,492 40,500 41.4,502.4" fill="none" stroke="#858585" stroke-width="1.0" stroke-dasharray="1.3,0.5"/>
<clipPath id="fB21"><path d="M27,505 L27,502.4 L30,500 L32,495 L34,488 L35.4,478 L36.6,464 L38,452 L39.4,443 L41,438 L42.4,436 L43.6,440 L45,448 L46.6,458 L48,468 L49.4,478 L51,488 L52.6,495 L54.6,499.6 L57,501.6 L61,502.4 L65,502.6 L65,505 Z"/></clipPath>
<polyline clip-path="url(#fB21)" points="22,502 23,492 24.6,468 26,450 27.4,442 29.4,439 31.4,440 33,442 34.4,452 35.6,466 37,480 38.6,492 40,500 41.4,502.4" fill="none" stroke="#b8b8b8" stroke-width="0.9" stroke-dasharray="1.1,0.7"/>
</g>
<rect x="20.7" y="429.4" width="74.3" height="73.6" fill="none" stroke="#8a8a8a" stroke-width="1.3"/>
<line x1="20.7" y1="503" x2="95" y2="503" stroke="#666" stroke-width="1.3"/>
<text x="89.5" y="439.7" font-size="13" text-anchor="end">98</text>
<clipPath id="cB22"><rect x="98.5" y="429.6" width="73.7" height="73.4"/></clipPath>
<g clip-path="url(#cB22)">
<path d="M103,505 L103,502 L105,500 L107,494 L109,484 L111,470 L112.4,458 L114,448 L115.6,441 L117.2,438 L118.4,442 L119.6,452 L121,466 L122.4,480 L124,492 L125.6,498 L127.6,501 L130,502 L130,505 Z" fill="url(#tex)" stroke="#555" stroke-width="0.5"/>
<polyline points="99.6,501.6 101,494 102.4,474 104,456 105.6,444 107.6,440.4 109.6,441 111,444 112.4,450 113.6,460 115,474 116.4,488 118,498 119.6,502" fill="none" stroke="#858585" stroke-width="1.0" stroke-dasharray="1.3,0.5"/>
<clipPath id="fB22"><path d="M103,505 L103,502 L105,500 L107,494 L109,484 L111,470 L112.4,458 L114,448 L115.6,441 L117.2,438 L118.4,442 L119.6,452 L121,466 L122.4,480 L124,492 L125.6,498 L127.6,501 L130,502 L130,505 Z"/></clipPath>
<polyline clip-path="url(#fB22)" points="99.6,501.6 101,494 102.4,474 104,456 105.6,444 107.6,440.4 109.6,441 111,444 112.4,450 113.6,460 115,474 116.4,488 118,498 119.6,502" fill="none" stroke="#b8b8b8" stroke-width="0.9" stroke-dasharray="1.1,0.7"/>
</g>
<rect x="98.5" y="429.6" width="73.7" height="73.4" fill="none" stroke="#8a8a8a" stroke-width="1.3"/>
<line x1="98.5" y1="503" x2="172.2" y2="503" stroke="#666" stroke-width="1.3"/>
<text x="169.8" y="439.7" font-size="13" text-anchor="end">34</text>
<clipPath id="cB23"><rect x="177.2" y="429.6" width="72" height="73"/></clipPath>
<g clip-path="url(#cB23)">
<path d="M178,504.6 L178,501.6 L179.6,498 L181,492 L182.4,482 L183.6,470 L185,456 L186.4,446 L188,442 L190,440 L192,438.4 L193.6,440 L195,443 L196,448 L197,460 L198,474 L199,486 L200,495 L201,500 L202,501.6 L202,504.6 Z" fill="url(#tex)" stroke="#555" stroke-width="0.5"/>
<polyline points="180,501.6 182,488 184,464 186,448 188,443 190.4,441 192.4,444 194,454 195.2,474 196,490 197.2,501.6" fill="none" stroke="#858585" stroke-width="1.0" stroke-dasharray="1.3,0.5"/>
<clipPath id="fB23"><path d="M178,504.6 L178,501.6 L179.6,498 L181,492 L182.4,482 L183.6,470 L185,456 L186.4,446 L188,442 L190,440 L192,438.4 L193.6,440 L195,443 L196,448 L197,460 L198,474 L199,486 L200,495 L201,500 L202,501.6 L202,504.6 Z"/></clipPath>
<polyline clip-path="url(#fB23)" points="180,501.6 182,488 184,464 186,448 188,443 190.4,441 192.4,444 194,454 195.2,474 196,490 197.2,501.6" fill="none" stroke="#b8b8b8" stroke-width="0.9" stroke-dasharray="1.1,0.7"/>
</g>
<rect x="177.2" y="429.6" width="72" height="73" fill="none" stroke="#8a8a8a" stroke-width="1.3"/>
<line x1="177.2" y1="502.6" x2="249.2" y2="502.6" stroke="#666" stroke-width="1.3"/>
<text x="247.1" y="440.5" font-size="13" text-anchor="end">12</text>
<clipPath id="cB24"><rect x="254.4" y="429.6" width="74.5" height="73.4"/></clipPath>
<g clip-path="url(#cB24)">
<path d="M254.4,505 L254.4,502.4 L254.4,490 L256.4,488 L258.4,482 L260.4,472 L262,460 L263.6,448 L265,442 L267,438 L269,437 L270.4,440 L272,441 L273.6,442 L275,452 L276.4,464 L278,476 L279.6,486 L281.6,494 L283.6,499 L286,501.6 L290,502.4 L290,505 Z" fill="url(#tex)" stroke="#555" stroke-width="0.5"/>
<polyline points="260,488 262,464 264,448 266,440 268.4,436.4 270,439 272,450 274,468 276,486 278,500" fill="none" stroke="#858585" stroke-width="1.0" stroke-dasharray="1.3,0.5"/>
<clipPath id="fB24"><path d="M254.4,505 L254.4,502.4 L254.4,490 L256.4,488 L258.4,482 L260.4,472 L262,460 L263.6,448 L265,442 L267,438 L269,437 L270.4,440 L272,441 L273.6,442 L275,452 L276.4,464 L278,476 L279.6,486 L281.6,494 L283.6,499 L286,501.6 L290,502.4 L290,505 Z"/></clipPath>
<polyline clip-path="url(#fB24)" points="260,488 262,464 264,448 266,440 268.4,436.4 270,439 272,450 274,468 276,486 278,500" fill="none" stroke="#b8b8b8" stroke-width="0.9" stroke-dasharray="1.1,0.7"/>
</g>
<rect x="254.4" y="429.6" width="74.5" height="73.4" fill="none" stroke="#8a8a8a" stroke-width="1.3"/>
<line x1="254.4" y1="503" x2="328.9" y2="503" stroke="#666" stroke-width="1.3"/>
<text x="326.9" y="439.7" font-size="13" text-anchor="end">28</text>
<clipPath id="cB25"><rect x="332.5" y="429.7" width="74" height="73.3"/></clipPath>
<g clip-path="url(#cB25)">
<path d="M336,505 L336,502.4 L338,500 L340,492 L342,478 L343.6,464 L345,452 L346.4,444 L348,439 L349.2,437 L350.4,440 L351.6,446 L353,458 L354.4,474 L356,488 L357.6,496 L359.6,501 L362,502.4 L362,505 Z" fill="url(#tex)" stroke="#555" stroke-width="0.5"/>
<polyline points="334,501.6 335.6,496 337,480 338.4,460 340,446 341.6,440 343,438.4 344.4,440 345.6,446 347,458 348.6,474 350.4,490 352,500 353.6,502" fill="none" stroke="#858585" stroke-width="1.0" stroke-dasharray="1.3,0.5"/>
<clipPath id="fB25"><path d="M336,505 L336,502.4 L338,500 L340,492 L342,478 L343.6,464 L345,452 L346.4,444 L348,439 L349.2,437 L350.4,440 L351.6,446 L353,458 L354.4,474 L356,488 L357.6,496 L359.6,501 L362,502.4 L362,505 Z"/></clipPath>
<polyline clip-path="url(#fB25)" points="334,501.6 335.6,496 337,480 338.4,460 340,446 341.6,440 343,438.4 344.4,440 345.6,446 347,458 348.6,474 350.4,490 352,500 353.6,502" fill="none" stroke="#b8b8b8" stroke-width="0.9" stroke-dasharray="1.1,0.7"/>
</g>
<rect x="332.5" y="429.7" width="74" height="73.3" fill="none" stroke="#8a8a8a" stroke-width="1.3"/>
<line x1="332.5" y1="503" x2="406.5" y2="503" stroke="#666" stroke-width="1.3"/>
<text x="402.7" y="443.9" font-size="13" text-anchor="end">32</text>
<clipPath id="cB26"><rect x="411.2" y="430.1" width="73.1" height="73.8"/></clipPath>
<g clip-path="url(#cB26)">
<path d="M413,505.9 L413,503.6 L414,498 L415,484 L416,468 L417,454 L418,444 L419.6,442.4 L421.6,443 L423.6,445 L425.6,449 L427,456 L428.4,466 L430,478 L431.6,488 L433,496 L435,501 L438,503 L442,503.6 L442,505.9 Z" fill="url(#tex)" stroke="#555" stroke-width="0.5"/>
<polyline points="411.6,484 412.4,474 413.6,460 415,448 416.4,442 417.6,441 419,444 420.4,454 421.6,468 423,484 424.4,496 426,503" fill="none" stroke="#858585" stroke-width="1.0" stroke-dasharray="1.3,0.5"/>
<clipPath id="fB26"><path d="M413,505.9 L413,503.6 L414,498 L415,484 L416,468 L417,454 L418,444 L419.6,442.4 L421.6,443 L423.6,445 L425.6,449 L427,456 L428.4,466 L430,478 L431.6,488 L433,496 L435,501 L438,503 L442,503.6 L442,505.9 Z"/></clipPath>
<polyline clip-path="url(#fB26)" points="411.6,484 412.4,474 413.6,460 415,448 416.4,442 417.6,441 419,444 420.4,454 421.6,468 423,484 424.4,496 426,503" fill="none" stroke="#b8b8b8" stroke-width="0.9" stroke-dasharray="1.1,0.7"/>
</g>
<rect x="411.2" y="430.1" width="73.1" height="73.8" fill="none" stroke="#8a8a8a" stroke-width="1.3"/>
<line x1="411.2" y1="503.9" x2="484.3" y2="503.9" stroke="#666" stroke-width="1.3"/>
<text x="481.5" y="443.9" font-size="13" text-anchor="end">25</text>
<clipPath id="cB31"><rect x="20.7" y="507.7" width="73.9" height="73.3"/></clipPath>
<g clip-path="url(#cB31)">
<path d="M22,583 L22,580.4 L25,576 L28,572 L31,568 L33,564 L35,556 L36.6,550 L38,546 L39,538 L40.6,535 L42,536 L43.4,531 L45,530 L46.6,526 L48,524 L49.4,521 L51,524 L52.6,532 L54,540 L56,546 L58,552 L60,556 L62,558 L63.4,562 L65,568 L66.6,574 L68.6,578 L71,580.4 L71,583 Z" fill="url(#tex)" stroke="#555" stroke-width="0.5"/>
<polyline points="21.4,580 22.6,570 24,550 25.4,532 27,522 29,517.6 31,518 32.6,524 34,534 35.4,548 37,560 38.6,568 40,574 41,580" fill="none" stroke="#858585" stroke-width="1.0" stroke-dasharray="1.3,0.5"/>
<clipPath id="fB31"><path d="M22,583 L22,580.4 L25,576 L28,572 L31,568 L33,564 L35,556 L36.6,550 L38,546 L39,538 L40.6,535 L42,536 L43.4,531 L45,530 L46.6,526 L48,524 L49.4,521 L51,524 L52.6,532 L54,540 L56,546 L58,552 L60,556 L62,558 L63.4,562 L65,568 L66.6,574 L68.6,578 L71,580.4 L71,583 Z"/></clipPath>
<polyline clip-path="url(#fB31)" points="21.4,580 22.6,570 24,550 25.4,532 27,522 29,517.6 31,518 32.6,524 34,534 35.4,548 37,560 38.6,568 40,574 41,580" fill="none" stroke="#b8b8b8" stroke-width="0.9" stroke-dasharray="1.1,0.7"/>
</g>
<rect x="20.7" y="507.7" width="73.9" height="73.3" fill="none" stroke="#8a8a8a" stroke-width="1.3"/>
<line x1="20.7" y1="581" x2="94.6" y2="581" stroke="#666" stroke-width="1.3"/>
<text x="90.9" y="517.7" font-size="13" text-anchor="end">212</text>
<clipPath id="cB32"><rect x="98.5" y="507.7" width="74.5" height="73.3"/></clipPath>
<g clip-path="url(#cB32)">
<path d="M107,583 L107,580.4 L109,578 L111,572 L112.4,562 L113.6,548 L115,534 L116.4,522 L118,516 L120,512.4 L121.6,516 L123,526 L124.4,538 L126,550 L127.6,562 L129,572 L130.4,578 L132,580.4 L132,583 Z" fill="url(#tex)" stroke="#555" stroke-width="0.5"/>
<polyline points="99,570 100.4,566 102.4,562 104.4,552 106.4,538 108.4,526 110.4,518 112.4,515.6 114,517 115,524 116,542 117,562 118,576 119,580.4" fill="none" stroke="#858585" stroke-width="1.0" stroke-dasharray="1.3,0.5"/>
<clipPath id="fB32"><path d="M107,583 L107,580.4 L109,578 L111,572 L112.4,562 L113.6,548 L115,534 L116.4,522 L118,516 L120,512.4 L121.6,516 L123,526 L124.4,538 L126,550 L127.6,562 L129,572 L130.4,578 L132,580.4 L132,583 Z"/></clipPath>
<polyline clip-path="url(#fB32)" points="99,570 100.4,566 102.4,562 104.4,552 106.4,538 108.4,526 110.4,518 112.4,515.6 114,517 115,524 116,542 117,562 118,576 119,580.4" fill="none" stroke="#b8b8b8" stroke-width="0.9" stroke-dasharray="1.1,0.7"/>
</g>
<rect x="98.5" y="507.7" width="74.5" height="73.3" fill="none" stroke="#8a8a8a" stroke-width="1.3"/>
<line x1="98.5" y1="581" x2="173" y2="581" stroke="#666" stroke-width="1.3"/>
<text x="168" y="519.2" font-size="13" text-anchor="end">52</text>
<clipPath id="cB33"><rect x="176.5" y="507.7" width="73.1" height="73.3"/></clipPath>
<g clip-path="url(#cB33)">
<path d="M177.6,583 L177.6,580.4 L179,576 L180.4,564 L181.6,546 L183,528 L184.4,518 L185.6,514.4 L187,520 L188.4,530 L190,538 L191.4,546 L193,554 L195,560 L197,564 L199,568 L201,571 L203,574 L205,577 L207,579 L210,580.4 L212,580.6 L212,583 Z" fill="url(#tex)" stroke="#555" stroke-width="0.5"/>
<polyline points="177.6,578 178.4,568 179.6,550 181,532 182.4,520 184,516.4 185.6,516 187,522 188.4,534 190,550 191.6,564 193,574 194.4,580" fill="none" stroke="#858585" stroke-width="1.0" stroke-dasharray="1.3,0.5"/>
<clipPath id="fB33"><path d="M177.6,583 L177.6,580.4 L179,576 L180.4,564 L181.6,546 L183,528 L184.4,518 L185.6,514.4 L187,520 L188.4,530 L190,538 L191.4,546 L193,554 L195,560 L197,564 L199,568 L201,571 L203,574 L205,577 L207,579 L210,580.4 L212,580.6 L212,583 Z"/></clipPath>
<polyline clip-path="url(#fB33)" points="177.6,578 178.4,568 179.6,550 181,532 182.4,520 184,516.4 185.6,516 187,522 188.4,534 190,550 191.6,564 193,574 194.4,580" fill="none" stroke="#b8b8b8" stroke-width="0.9" stroke-dasharray="1.1,0.7"/>
</g>
<rect x="176.5" y="507.7" width="73.1" height="73.3" fill="none" stroke="#8a8a8a" stroke-width="1.3"/>
<line x1="176.5" y1="581" x2="249.6" y2="581" stroke="#666" stroke-width="1.3"/>
<text x="246.9" y="519.2" font-size="13" text-anchor="end">67</text>
<clipPath id="cB34"><rect x="253.7" y="509.1" width="74.4" height="72.4"/></clipPath>
<g clip-path="url(#cB34)">
<path d="M257,583.5 L257,581 L259,578 L261,568 L263,554 L265,540 L267,528 L269,520 L270.4,516 L271.6,520 L273,530 L274.4,542 L276,556 L277.4,568 L279,576 L281,580 L284,581 L284,583.5 Z" fill="url(#tex)" stroke="#555" stroke-width="0.5"/>
<polyline points="254,576 255.6,570 257,552 258.4,534 260,524 261.6,519 263,518 264.4,522 265.6,526 267,524 268,528 269,536 270,546 271.6,560 273,572 274.4,579 275.6,581" fill="none" stroke="#858585" stroke-width="1.0" stroke-dasharray="1.3,0.5"/>
<clipPath id="fB34"><path d="M257,583.5 L257,581 L259,578 L261,568 L263,554 L265,540 L267,528 L269,520 L270.4,516 L271.6,520 L273,530 L274.4,542 L276,556 L277.4,568 L279,576 L281,580 L284,581 L284,583.5 Z"/></clipPath>
<polyline clip-path="url(#fB34)" points="254,576 255.6,570 257,552 258.4,534 260,524 261.6,519 263,518 264.4,522 265.6,526 267,524 268,528 269,536 270,546 271.6,560 273,572 274.4,579 275.6,581" fill="none" stroke="#b8b8b8" stroke-width="0.9" stroke-dasharray="1.1,0.7"/>
</g>
<rect x="253.7" y="509.1" width="74.4" height="72.4" fill="none" stroke="#8a8a8a" stroke-width="1.3"/>
<line x1="253.7" y1="581.5" x2="328.1" y2="581.5" stroke="#666" stroke-width="1.3"/>
<text x="324.5" y="521.2" font-size="13" text-anchor="end">18</text>
<clipPath id="cB35"><rect x="333" y="510.6" width="74" height="70"/></clipPath>
<g clip-path="url(#cB35)">
<path d="M333.6,582.6 L333.6,580 L334,568 L335.6,556 L337,542 L338.4,530 L340,522 L342,519 L344,517.6 L345.6,522 L347,530 L348,534 L349,540 L350.4,548 L351.6,556 L353,564 L354.4,570 L356,574 L358,576.4 L360,578 L362.4,579.6 L365,580.4 L365,582.6 Z" fill="url(#tex)" stroke="#555" stroke-width="0.5"/>
<polyline points="335,580 337,562 339,542 341,526 343,520 345,521 347,532 348.4,548 349.6,562 351,574 352.4,580" fill="none" stroke="#858585" stroke-width="1.0" stroke-dasharray="1.3,0.5"/>
<clipPath id="fB35"><path d="M333.6,582.6 L333.6,580 L334,568 L335.6,556 L337,542 L338.4,530 L340,522 L342,519 L344,517.6 L345.6,522 L347,530 L348,534 L349,540 L350.4,548 L351.6,556 L353,564 L354.4,570 L356,574 L358,576.4 L360,578 L362.4,579.6 L365,580.4 L365,582.6 Z"/></clipPath>
<polyline clip-path="url(#fB35)" points="335,580 337,562 339,542 341,526 343,520 345,521 347,532 348.4,548 349.6,562 351,574 352.4,580" fill="none" stroke="#b8b8b8" stroke-width="0.9" stroke-dasharray="1.1,0.7"/>
</g>
<rect x="333" y="510.6" width="74" height="70" fill="none" stroke="#8a8a8a" stroke-width="1.3"/>
<line x1="333" y1="580.6" x2="407" y2="580.6" stroke="#666" stroke-width="1.3"/>
<text x="403.5" y="522.1" font-size="13" text-anchor="end">9</text>
<clipPath id="cB36"><rect x="411.7" y="510.2" width="75.2" height="72.8"/></clipPath>
<g clip-path="url(#cB36)">
<path d="M418,585 L418,583 L420,581 L422,576 L424,570 L426,560 L427.6,548 L429,536 L430.4,526 L432,519 L433.4,516.4 L434.6,522 L436,532 L437.6,542 L439,552 L440.4,562 L442,570 L443.6,576 L445.6,580 L448,581.6 L452,582.4 L456,583 L456,585 Z" fill="url(#tex)" stroke="#555" stroke-width="0.5"/>
<polyline points="412.4,582 413.6,570 415,552 416.4,536 418,526 419.6,521 421.2,519.6 423,522 425,530 426.4,540 428,554 429.6,568 431,578 432.4,582" fill="none" stroke="#858585" stroke-width="1.0" stroke-dasharray="1.3,0.5"/>
<clipPath id="fB36"><path d="M418,585 L418,583 L420,581 L422,576 L424,570 L426,560 L427.6,548 L429,536 L430.4,526 L432,519 L433.4,516.4 L434.6,522 L436,532 L437.6,542 L439,552 L440.4,562 L442,570 L443.6,576 L445.6,580 L448,581.6 L452,582.4 L456,583 L456,585 Z"/></clipPath>
<polyline clip-path="url(#fB36)" points="412.4,582 413.6,570 415,552 416.4,536 418,526 419.6,521 421.2,519.6 423,522 425,530 426.4,540 428,554 429.6,568 431,578 432.4,582" fill="none" stroke="#b8b8b8" stroke-width="0.9" stroke-dasharray="1.1,0.7"/>
</g>
<rect x="411.7" y="510.2" width="75.2" height="72.8" fill="none" stroke="#8a8a8a" stroke-width="1.3"/>
<line x1="411.7" y1="583" x2="486.9" y2="583" stroke="#666" stroke-width="1.3"/>
<text x="483.2" y="522.1" font-size="13" text-anchor="end">31</text>
<text class="tk" x="22" y="283.3" font-size="4.4" text-anchor="middle">10<tspan dy="-1.6" font-size="3.2">0</tspan></text>
<text class="tk" x="39.33" y="283.3" font-size="4.4" text-anchor="middle">10<tspan dy="-1.6" font-size="3.2">1</tspan></text>
<text class="tk" x="56.65" y="283.3" font-size="4.4" text-anchor="middle">10<tspan dy="-1.6" font-size="3.2">2</tspan></text>
<text class="tk" x="73.97" y="283.3" font-size="4.4" text-anchor="middle">10<tspan dy="-1.6" font-size="3.2">3</tspan></text>
<text class="tk" x="91.3" y="283.3" font-size="4.4" text-anchor="middle">10<tspan dy="-1.6" font-size="3.2">4</tspan></text>
<text class="tk" x="101.2" y="283.3" font-size="4.4" text-anchor="middle">10<tspan dy="-1.6" font-size="3.2">0</tspan></text>
<text class="tk" x="118.53" y="283.3" font-size="4.4" text-anchor="middle">10<tspan dy="-1.6" font-size="3.2">1</tspan></text>
<text class="tk" x="135.85" y="283.3" font-size="4.4" text-anchor="middle">10<tspan dy="-1.6" font-size="3.2">2</tspan></text>
<text class="tk" x="153.18" y="283.3" font-size="4.4" text-anchor="middle">10<tspan dy="-1.6" font-size="3.2">3</tspan></text>
<text class="tk" x="170.5" y="283.3" font-size="4.4" text-anchor="middle">10<tspan dy="-1.6" font-size="3.2">4</tspan></text>
<text class="tk" x="181.2" y="283.3" font-size="4.4" text-anchor="middle">10<tspan dy="-1.6" font-size="3.2">0</tspan></text>
<text class="tk" x="198.65" y="283.3" font-size="4.4" text-anchor="middle">10<tspan dy="-1.6" font-size="3.2">1</tspan></text>
<text class="tk" x="216.1" y="283.3" font-size="4.4" text-anchor="middle">10<tspan dy="-1.6" font-size="3.2">2</tspan></text>
<text class="tk" x="233.55" y="283.3" font-size="4.4" text-anchor="middle">10<tspan dy="-1.6" font-size="3.2">3</tspan></text>
<text class="tk" x="251" y="283.3" font-size="4.4" text-anchor="middle">10<tspan dy="-1.6" font-size="3.2">4</tspan></text>
<text class="tk" x="261" y="283.3" font-size="4.4" text-anchor="middle">10<tspan dy="-1.6" font-size="3.2">0</tspan></text>
<text class="tk" x="278.57" y="283.3" font-size="4.4" text-anchor="middle">10<tspan dy="-1.6" font-size="3.2">1</tspan></text>
<text class="tk" x="296.15" y="283.3" font-size="4.4" text-anchor="middle">10<tspan dy="-1.6" font-size="3.2">2</tspan></text>
<text class="tk" x="313.73" y="283.3" font-size="4.4" text-anchor="middle">10<tspan dy="-1.6" font-size="3.2">3</tspan></text>
<text class="tk" x="331.3" y="283.3" font-size="4.4" text-anchor="middle">10<tspan dy="-1.6" font-size="3.2">4</tspan></text>
<text class="tk" x="342.2" y="283.3" font-size="4.4" text-anchor="middle">10<tspan dy="-1.6" font-size="3.2">0</tspan></text>
<text class="tk" x="358.98" y="283.3" font-size="4.4" text-anchor="middle">10<tspan dy="-1.6" font-size="3.2">1</tspan></text>
<text class="tk" x="375.75" y="283.3" font-size="4.4" text-anchor="middle">10<tspan dy="-1.6" font-size="3.2">2</tspan></text>
<text class="tk" x="392.52" y="283.3" font-size="4.4" text-anchor="middle">10<tspan dy="-1.6" font-size="3.2">3</tspan></text>
<text class="tk" x="409.3" y="283.3" font-size="4.4" text-anchor="middle">10<tspan dy="-1.6" font-size="3.2">4</tspan></text>
<text class="tk" x="419.3" y="283.3" font-size="4.4" text-anchor="middle">10<tspan dy="-1.6" font-size="3.2">0</tspan></text>
<text class="tk" x="436.55" y="283.3" font-size="4.4" text-anchor="middle">10<tspan dy="-1.6" font-size="3.2">1</tspan></text>
<text class="tk" x="453.8" y="283.3" font-size="4.4" text-anchor="middle">10<tspan dy="-1.6" font-size="3.2">2</tspan></text>
<text class="tk" x="471.05" y="283.3" font-size="4.4" text-anchor="middle">10<tspan dy="-1.6" font-size="3.2">3</tspan></text>
<text class="tk" x="488.3" y="283.3" font-size="4.4" text-anchor="middle">10<tspan dy="-1.6" font-size="3.2">4</tspan></text>
<text class="tk" x="23.7" y="587.8" font-size="4.4" text-anchor="middle">10<tspan dy="-1.6" font-size="3.2">0</tspan></text>
<text class="tk" x="40.77" y="587.8" font-size="4.4" text-anchor="middle">10<tspan dy="-1.6" font-size="3.2">1</tspan></text>
<text class="tk" x="57.85" y="587.8" font-size="4.4" text-anchor="middle">10<tspan dy="-1.6" font-size="3.2">2</tspan></text>
<text class="tk" x="74.92" y="587.8" font-size="4.4" text-anchor="middle">10<tspan dy="-1.6" font-size="3.2">3</tspan></text>
<text class="tk" x="92" y="587.8" font-size="4.4" text-anchor="middle">10<tspan dy="-1.6" font-size="3.2">4</tspan></text>
<text class="tk" x="101.5" y="587.8" font-size="4.4" text-anchor="middle">10<tspan dy="-1.6" font-size="3.2">0</tspan></text>
<text class="tk" x="118.53" y="587.8" font-size="4.4" text-anchor="middle">10<tspan dy="-1.6" font-size="3.2">1</tspan></text>
<text class="tk" x="135.55" y="587.8" font-size="4.4" text-anchor="middle">10<tspan dy="-1.6" font-size="3.2">2</tspan></text>
<text class="tk" x="152.57" y="587.8" font-size="4.4" text-anchor="middle">10<tspan dy="-1.6" font-size="3.2">3</tspan></text>
<text class="tk" x="169.6" y="587.8" font-size="4.4" text-anchor="middle">10<tspan dy="-1.6" font-size="3.2">4</tspan></text>
<text class="tk" x="180.4" y="587.8" font-size="4.4" text-anchor="middle">10<tspan dy="-1.6" font-size="3.2">0</tspan></text>
<text class="tk" x="196.93" y="587.8" font-size="4.4" text-anchor="middle">10<tspan dy="-1.6" font-size="3.2">1</tspan></text>
<text class="tk" x="213.45" y="587.8" font-size="4.4" text-anchor="middle">10<tspan dy="-1.6" font-size="3.2">2</tspan></text>
<text class="tk" x="229.97" y="587.8" font-size="4.4" text-anchor="middle">10<tspan dy="-1.6" font-size="3.2">3</tspan></text>
<text class="tk" x="246.5" y="587.8" font-size="4.4" text-anchor="middle">10<tspan dy="-1.6" font-size="3.2">4</tspan></text>
<text class="tk" x="257.3" y="587.8" font-size="4.4" text-anchor="middle">10<tspan dy="-1.6" font-size="3.2">0</tspan></text>
<text class="tk" x="274.38" y="587.8" font-size="4.4" text-anchor="middle">10<tspan dy="-1.6" font-size="3.2">1</tspan></text>
<text class="tk" x="291.45" y="587.8" font-size="4.4" text-anchor="middle">10<tspan dy="-1.6" font-size="3.2">2</tspan></text>
<text class="tk" x="308.53" y="587.8" font-size="4.4" text-anchor="middle">10<tspan dy="-1.6" font-size="3.2">3</tspan></text>
<text class="tk" x="325.6" y="587.8" font-size="4.4" text-anchor="middle">10<tspan dy="-1.6" font-size="3.2">4</tspan></text>
<text class="tk" x="335.8" y="587.8" font-size="4.4" text-anchor="middle">10<tspan dy="-1.6" font-size="3.2">0</tspan></text>
<text class="tk" x="352.75" y="587.8" font-size="4.4" text-anchor="middle">10<tspan dy="-1.6" font-size="3.2">1</tspan></text>
<text class="tk" x="369.7" y="587.8" font-size="4.4" text-anchor="middle">10<tspan dy="-1.6" font-size="3.2">2</tspan></text>
<text class="tk" x="386.65" y="587.8" font-size="4.4" text-anchor="middle">10<tspan dy="-1.6" font-size="3.2">3</tspan></text>
<text class="tk" x="403.6" y="587.8" font-size="4.4" text-anchor="middle">10<tspan dy="-1.6" font-size="3.2">4</tspan></text>
<text class="tk" x="414.8" y="587.8" font-size="4.4" text-anchor="middle">10<tspan dy="-1.6" font-size="3.2">0</tspan></text>
<text class="tk" x="431.95" y="587.8" font-size="4.4" text-anchor="middle">10<tspan dy="-1.6" font-size="3.2">1</tspan></text>
<text class="tk" x="449.1" y="587.8" font-size="4.4" text-anchor="middle">10<tspan dy="-1.6" font-size="3.2">2</tspan></text>
<text class="tk" x="466.25" y="587.8" font-size="4.4" text-anchor="middle">10<tspan dy="-1.6" font-size="3.2">3</tspan></text>
<text class="tk" x="483.4" y="587.8" font-size="4.4" text-anchor="middle">10<tspan dy="-1.6" font-size="3.2">4</tspan></text>
<rect x="18.7" y="287.6" width="72.5" height="1.5" fill="#333"/>
<rect x="98.75" y="287.6" width="72.5" height="1.5" fill="#333"/>
<rect x="180" y="287.6" width="72.5" height="1.5" fill="#333"/>
<rect x="259.5" y="287.6" width="71.75" height="1.5" fill="#333"/>
<rect x="343" y="287.6" width="73.25" height="1.5" fill="#333"/>
<rect x="420.3" y="287.6" width="72.5" height="1.5" fill="#333"/>
<rect x="19.5" y="591.3" width="73.5" height="1.5" fill="#333"/>
<rect x="98.75" y="591.3" width="73.25" height="1.5" fill="#333"/>
<rect x="176.25" y="591.3" width="73.25" height="1.5" fill="#333"/>
<rect x="252.5" y="591.3" width="75" height="1.5" fill="#333"/>
<rect x="330.5" y="591.3" width="77" height="1.5" fill="#333"/>
<rect x="411" y="591.3" width="76.7" height="1.5" fill="#333"/>
<text x="27" y="303.6" font-size="16">HLA-DR</text>
<text x="116.8" y="303.6" font-size="16">CD80</text>
<text x="199.3" y="303.6" font-size="16">CD86</text>
<text x="276.8" y="303.6" font-size="16">CCR7</text>
<text x="363" y="303.6" font-size="16">CD14</text>
<text x="436.3" y="303.6" font-size="16">CD11c</text>
<text x="30.8" y="607.6" font-size="16">HLA-DR</text>
<text x="115.5" y="607.6" font-size="16">CD80</text>
<text x="198" y="607.6" font-size="16">CD86</text>
<text x="272.3" y="607.6" font-size="16">CCR7</text>
<text x="353.8" y="607.6" font-size="16">CD14</text>
<text x="430.5" y="607.6" font-size="16">CD11c</text>
</svg></body></html>
